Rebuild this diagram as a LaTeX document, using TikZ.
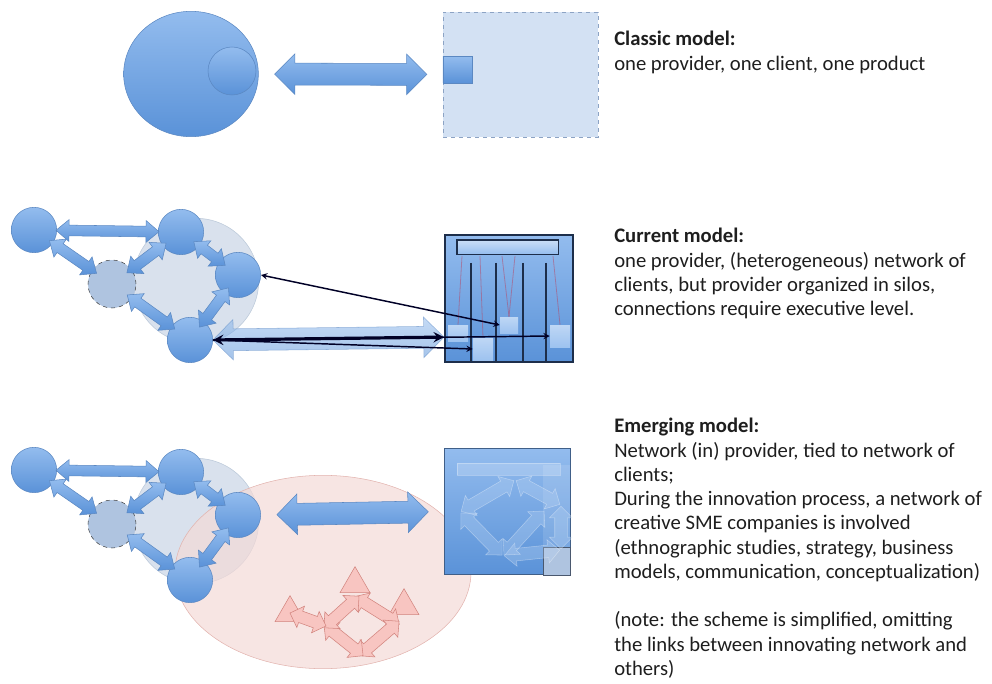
\documentclass[tikz,border=0pt]{standalone}
\usepackage{fontspec}
\setmainfont{Carlito}
\usetikzlibrary{shapes.arrows,shapes.geometric,calc,positioning}

\definecolor{nodeblue}{HTML}{5A92D8}
\definecolor{nodelight}{HTML}{93BCEE}
\definecolor{nodeedge}{HTML}{5B88C2}
\definecolor{haloblue}{HTML}{CFDAE8}
\definecolor{haloedge}{HTML}{BBC8D9}
\definecolor{ghostblue}{HTML}{AFC4E0}
\definecolor{clientfill}{HTML}{D3E1F3}
\definecolor{clientedge}{HTML}{8CA3C4}
\definecolor{siloedge}{HTML}{1D2E4A}
\definecolor{pinkfill}{HTML}{F4DAD7}
\definecolor{pinkedge}{HTML}{E2B3AE}
\definecolor{pinkarrow}{HTML}{F8C5C1}
\definecolor{pinkline}{HTML}{D2847E}
\definecolor{textgray}{HTML}{1E1E1E}

\tikzstyle{actor} = [circle, draw=nodeedge, top color=nodelight, bottom color=nodeblue, inner sep=0pt, minimum size=34pt]
\tikzstyle{ghost} = [circle, draw=black!75, dashed, fill=ghostblue, inner sep=0pt, minimum size=36pt]
\tikzstyle{halo} = [circle, draw=haloedge, fill=haloblue, fill opacity=0.8, inner sep=0pt, minimum size=94pt]
\tikzstyle{linkarrow} = [double arrow, draw=nodeedge, top color=nodelight, bottom color=nodeblue,
    inner xsep=0pt, inner ysep=3.8pt, double arrow head extend=4.2pt, double arrow tip angle=80]
\tikzstyle{bigarrow} = [double arrow, draw=nodeedge, top color=nodelight, bottom color=nodeblue,
    inner xsep=0pt, inner ysep=8pt, double arrow head extend=7pt, double arrow tip angle=90]
\tikzstyle{silo} = [rectangle, draw=siloedge, line width=1.5pt, top color=nodelight, bottom color=nodeblue,
    inner sep=0pt, minimum width=96pt, minimum height=95pt]
\tikzstyle{slot} = [rectangle, top color=nodelight!60!white, bottom color=nodelight!90!white, inner sep=0pt]
\tikzstyle{siloline} = [draw=siloedge, line width=1.5pt]
\tikzstyle{tie} = [draw=black!85!blue, line width=1.1pt, <->, >=stealth]
\tikzstyle{wisp} = [double arrow, draw=white, draw opacity=0.35, fill=nodelight!60!white, fill opacity=0.3,
    inner xsep=0pt, inner ysep=4.5pt, double arrow head extend=4pt]
\tikzstyle{pinkarr} = [double arrow, draw=pinkline, fill=pinkarrow, inner xsep=0pt, inner ysep=4.3pt,
    double arrow head extend=4pt]
\tikzstyle{pinktri} = [regular polygon, regular polygon sides=3, draw=pinkline, fill=pinkarrow,
    inner sep=0pt, minimum size=26pt]
\tikzstyle{note} = [anchor=north west, align=left, inner sep=0pt, text=textgray,
    font=\fontsize{15.5pt}{18.2pt}\selectfont]

% block arrow between two points: [style]{from}{to}{shortening}
\newcommand{\netlink}[4][linkarrow]{%
\path let \p1=(#2), \p2=(#3), \n1={atan2(\y2-\y1,\x2-\x1)}, \n2={veclen(\x2-\x1,\y2-\y1)} in
    node[#1, minimum height={\n2-#4}, rotate=\n1] at ($(#2)!0.5!(#3)$) {};}

% provider network: prefix, vertical offset
\newcommand{\provnet}[2]{%
\begin{scope}[shift={(0,#2)}]
\node[actor] (#1a) at (34,230) {};
\node[actor] (#1b) at (181,232) {};
\node[actor] (#1c) at (238,275) {};
\node[actor] (#1d) at (190,340) {};
\node[ghost] (#1e) at (112,284) {};
\end{scope}
\netlink{#1a}{#1b}{33pt}
\netlink{#1a}{#1e}{28pt}
\netlink{#1e}{#1b}{28pt}
\netlink{#1b}{#1c}{24pt}
\netlink{#1c}{#1d}{24pt}
\netlink{#1e}{#1d}{28pt}}

\begin{document}
\begin{tikzpicture}[x=0.75pt, y=-0.75pt]
\useasboundingbox (0,0) rectangle (992,684);

% classic model
\node[rectangle, dashed, draw=clientedge, fill=clientfill, minimum width=116pt, minimum height=94pt,
    inner sep=0pt] (client) at (520.5,74.5) {};
\node[ellipse, draw=nodeedge, top color=nodelight, bottom color=nodeblue, minimum width=101pt,
    minimum height=94pt, inner sep=0pt] (provider) at (191,74) {};
\node[actor, minimum size=36pt] (offer) at (232,71) {};
\node[rectangle, draw=nodeedge, top color=nodelight, bottom color=nodeblue, minimum width=22pt,
    minimum height=20pt, inner sep=0pt] (product) at (457.5,69.5) {};
\netlink[bigarrow]{provider.east}{client.west}{24pt}

% current model
\node[halo] (curhalo) at (196,281) {};
\provnet{cur}{0}
\node[silo] (silos) at (509,298.5) {};
\node[rectangle, draw=siloedge, line width=1pt, top color=nodelight!50!white, bottom color=nodelight,
    minimum width=76pt, minimum height=11pt, inner sep=0pt] (exec) at (507.5,247.5) {};
\node[slot, minimum width=15pt, minimum height=12pt] (s1) at (458,333) {};
\node[slot, minimum width=15pt, minimum height=16.5pt] (s2) at (483,349) {};
\node[slot, minimum width=13.5pt, minimum height=12pt] (s3) at (509,325) {};
\node[slot, minimum width=15pt, minimum height=16.5pt] (s4) at (560,336) {};
\foreach \a/\b in {462/s1, 480/s2, 502/s3, 515/s3, 553/s4}
    \draw[red!60!nodeblue, opacity=0.45, line width=0.6pt] (\a,256) -- (\b.north);
\foreach \x in {471,496,523,546}
    \draw[siloline] (\x,263) -- (\x,362);
\coordinate (port) at ($(silos.south west)!0.2!(silos.north west)$);
\netlink[bigarrow, opacity=0.55]{curd.east}{port}{0pt}
\draw[tie] (curc.east) -- (s3.west);
\draw[tie, line width=2.4pt] (curd.east) -- (port);
\draw[tie, ->] (curd.east) -- (s4.west);
\draw[tie, ->] (curd.east) -- (s2.west);

% emerging model
\node[halo] (emhalo) at (196,521) {};
\node[ellipse, draw=pinkedge, fill=pinkfill, fill opacity=0.7, minimum width=222pt, minimum height=145pt,
    inner sep=0pt] (smes) at (323,572) {};
\provnet{em}{240}
\node[rectangle, draw=nodeedge!70!black, line width=0.8pt, top color=nodelight, bottom color=nodeblue,
    minimum width=94pt, minimum height=95pt, inner sep=0pt] (hub) at (507.5,511.5) {};
\node[rectangle, fill=white, fill opacity=0.2, draw=white, draw opacity=0.3, minimum width=77pt,
    minimum height=9pt, inner sep=0pt] (trace) at (508.5,469) {};
\fill[white, opacity=0.12] (543,465) rectangle (570,547);
\node[rectangle, draw=siloedge!80, fill=ghostblue, minimum width=20pt, minimum height=21pt,
    inner sep=0pt] (corner) at (556.5,561) {};
\coordinate (r1) at (460,512);
\coordinate (r2) at (515,480);
\coordinate (r3) at (561,505);
\coordinate (r4) at (561,550);
\coordinate (r5) at (503,556);
\coordinate (r6) at (545,510);
\netlink[wisp]{r1}{r2}{2pt}
\netlink[wisp]{r2}{r3}{2pt}
\netlink[wisp]{r3}{r4}{2pt}
\netlink[wisp]{r5}{r4}{2pt}
\netlink[wisp]{r1}{r5}{2pt}
\netlink[wisp]{r5}{r6}{2pt}
\netlink[bigarrow]{emc.east}{hub.west}{24pt}

% creative SME network
\node[pinktri] (t1) at (355,584) {};
\node[pinktri] (t2) at (404,606) {};
\node[pinktri] (t3) at (290,613) {};
\coordinate (p1) at (357,598);
\coordinate (p2) at (397,623);
\coordinate (p3) at (361,654);
\coordinate (p4) at (326,626);
\netlink[pinkarr]{p1}{p2}{-4pt}
\netlink[pinkarr]{p2}{p3}{-4pt}
\netlink[pinkarr]{p3}{p4}{-4pt}
\netlink[pinkarr]{p4}{p1}{-4pt}
\netlink[pinkarr]{t3}{p4}{0pt}

% texts
\node[note] (classic) at (614,31) {\textbf{Classic model:}\\one provider, one client, one product};
\node[note] (current) at (614,228) {\textbf{Current model:}\\one provider, (heterogeneous) network of\\
    clients, but provider organized in silos,\\connections require executive level.};
\node[note] (emerging) at (614,418) {\textbf{Emerging model:}\\Network (in) provider, tied to network of\\
    clients;\\During the innovation process, a network of\\creative SME companies is involved\\
    (ethnographic studies, strategy, business\\models, communication, conceptualization)\\[18.2pt]
    (note: the scheme is simplified, omitting\\the links between innovating network and\\others)};
\end{tikzpicture}
\end{document}
